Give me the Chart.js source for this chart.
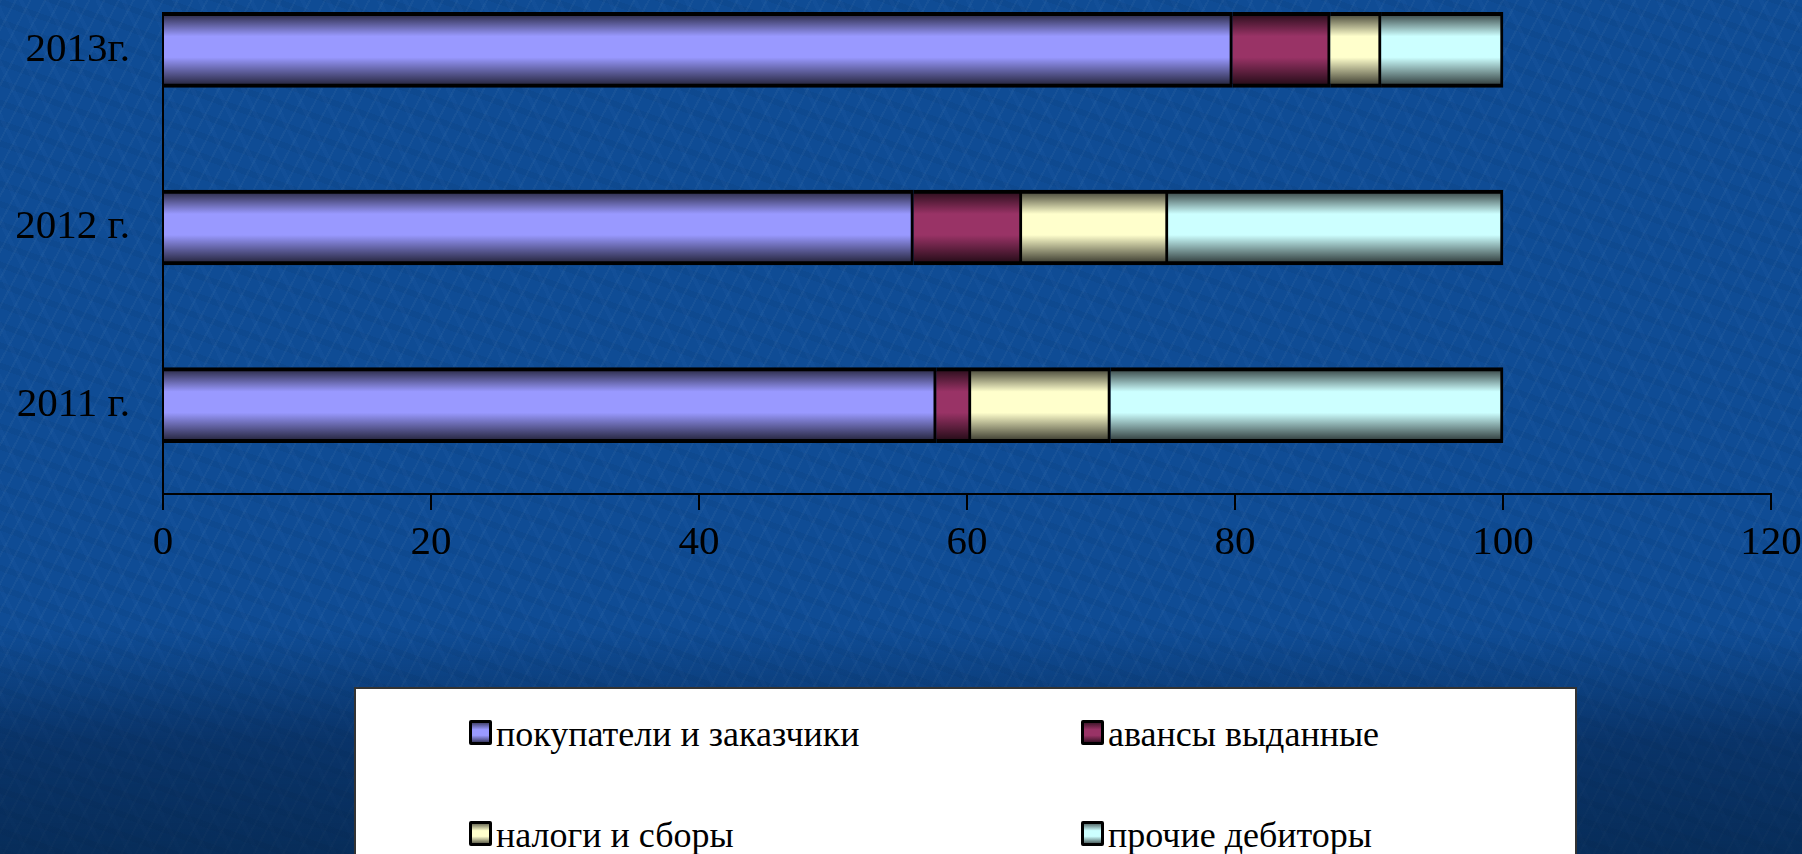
<!DOCTYPE html>
<html lang="ru">
<head>
<meta charset="utf-8">
<title>Структура дебиторской задолженности</title>
<script src="https://cdn.jsdelivr.net/npm/chart.js@4.4.1/dist/chart.umd.min.js"></script>
<style>
  html, body { margin: 0; padding: 0; width: 1802px; height: 854px; overflow: hidden; }
  body {
    font-family: "Liberation Serif", "Times New Roman", serif;
    background:
      linear-gradient(180deg, rgba(0,0,0,0) 0px, rgba(0,0,0,0) 630px, rgba(2,22,52,0.45) 740px, rgba(2,24,50,0.6) 854px),
      repeating-linear-gradient(118deg, rgba(255,255,255,0.03) 0 2px, rgba(255,255,255,0) 2px 13px),
      repeating-linear-gradient(64deg, rgba(120,170,230,0.035) 0 4px, rgba(0,0,0,0) 4px 23px),
      repeating-linear-gradient(20deg, rgba(0,20,60,0.06) 0 6px, rgba(0,0,0,0) 6px 19px),
      #0f4c95;
  }
  /* the plot starts above the slide edge; the wrapper hides what is above the top bar */
  #clip { position: absolute; left: 0; top: 12px; width: 1802px; height: 842px; overflow: hidden; }
  #chartBox { position: absolute; left: 0; top: -51px; width: 1802px; height: 613px; }
  #legend {
    position: absolute; left: 354px; top: 687px; width: 1223px; height: 200px;
    box-sizing: border-box; background: #fff; border: 2px solid #333;
    display: grid; grid-template-columns: 612px 420px; grid-auto-rows: 101px;
    padding: 31px 0 0 113px;
  }
  .item { display: flex; align-items: flex-start; font-size: 36px; color: #000; }
  .mark { width: 17px; height: 19px; border: 3px solid #000; border-radius: 2px; margin-right: 4px; flex: none; }
  .txt { line-height: 28px; white-space: nowrap; }
</style>
</head>
<body>
<div id="clip"><div id="chartBox"><canvas id="debtChart"></canvas></div></div>
<div id="legend"></div>
<script>
// values, % of total receivables
const years = ['2011 г.', '2012 г.', '2013г.'];
const seriesNames = ['покупатели и заказчики', 'авансы выданные', 'налоги и сборы', 'прочие дебиторы'];
const buyers = [57.7, 56.0, 79.8];
const advances = [2.6, 8.1, 7.3];
const taxes = [10.4, 10.9, 3.8];
const others = [29.3, 25.0, 9.1];
const seriesColors = ['#9999ff', '#993366', '#ffffcc', '#ccffff'];
const xTicks = [0, 20, 40, 60, 80, 100, 120];

const BAR = 75;
const serif = '"Liberation Serif", "Times New Roman", serif';

function darken(hex, k) {
    const n = parseInt(hex.slice(1), 16);
    const r = Math.round(((n >> 16) & 255) * k);
    const g = Math.round(((n >> 8) & 255) * k);
    const b = Math.round((n & 255) * k);
    return `rgb(${r}, ${g}, ${b})`;
}

// cylinder-like shading across the bar thickness
function barFill(color) {
    return (ctx) => {
        if (ctx.type !== 'data' || !ctx.chart.chartArea) return color;
        const chart = ctx.chart;
        const y = chart.scales.y.getPixelForValue(ctx.dataIndex);
        const g = chart.ctx.createLinearGradient(0, y - BAR / 2, 0, y + BAR / 2);
        g.addColorStop(0, darken(color, 0.22));
        g.addColorStop(0.32, color);
        g.addColorStop(0.6, color);
        g.addColorStop(1, darken(color, 0.18));
        return g;
    };
}

const allValues = [buyers, advances, taxes, others];

const htmlLegend = {
    id: 'htmlLegend',
    afterUpdate(chart) {
        const box = document.getElementById('legend');
        box.innerHTML = '';
        const items = chart.options.plugins.legend.labels.generateLabels(chart);
        items.forEach(item => {
            const c = seriesColors[item.datasetIndex];
            const row = document.createElement('div');
            row.className = 'item';
            const mark = document.createElement('span');
            mark.className = 'mark';
            mark.style.background = `linear-gradient(180deg, ${darken(c, 0.45)} 0%, ${c} 35%, ${c} 65%, ${darken(c, 0.4)} 100%)`;
            const txt = document.createElement('span');
            txt.className = 'txt';
            txt.textContent = item.text;
            row.appendChild(mark);
            row.appendChild(txt);
            box.appendChild(row);
        });
    }
};

new Chart(document.getElementById('debtChart').getContext('2d'), {
    type: 'bar',
    data: {
        labels: years,
        datasets: seriesNames.map((name, i) => ({
            label: name,
            data: allValues[i],
            backgroundColor: barFill(seriesColors[i]),
            borderColor: '#000',
            borderWidth: { top: 4, bottom: 4, left: 0, right: 3 },
            borderSkipped: false,
            barThickness: BAR
        }))
    },
    options: {
        indexAxis: 'y',
        responsive: true,
        maintainAspectRatio: false,
        animation: false,
        layout: { padding: { left: 0, right: 31, top: 0, bottom: 0 } },
        plugins: {
            legend: { display: false },
            tooltip: { enabled: false }
        },
        scales: {
            x: {
                stacked: true,
                min: xTicks[0],
                max: xTicks[xTicks.length - 1],
                ticks: {
                    stepSize: xTicks[1] - xTicks[0],
                    color: '#000',
                    font: { family: serif, size: 41 },
                    padding: 9,
                    maxRotation: 0,
                    autoSkip: false
                },
                grid: { drawOnChartArea: false, drawTicks: true, tickLength: 16, color: '#000', lineWidth: 2 },
                border: { color: '#000', width: 2 },
                afterFit(scale) {
                    scale.height = 80;
                    scale.paddingLeft = 0;
                    scale.paddingRight = 0;
                }
            },
            y: {
                stacked: true,
                reverse: true,
                ticks: {
                    color: '#000',
                    font: { family: serif, size: 41 },
                    padding: 33
                },
                grid: { display: false, drawTicks: false },
                border: { color: '#000', width: 2 },
                afterFit(scale) {
                    scale.width = 163;
                    scale.paddingTop = 0;
                    scale.paddingBottom = 0;
                }
            }
        }
    },
    plugins: [htmlLegend]
});
</script>
</body>
</html>
